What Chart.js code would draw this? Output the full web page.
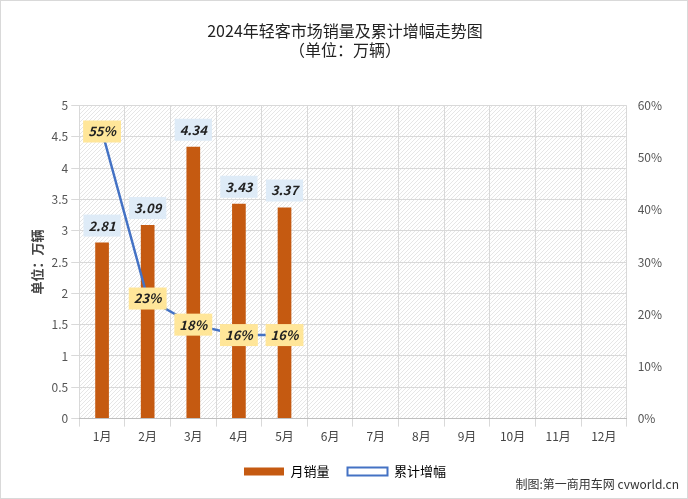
<!DOCTYPE html>
<html><head><meta charset="utf-8">
<script src="https://cdn.jsdelivr.net/npm/chart.js@4"></script>
<style>body{margin:0;background:#fff}#w{width:688px;height:499px;position:relative;box-sizing:border-box;border:1px solid #d9d9d9}</style>
</head><body><div id="w"><canvas id="c" width="686" height="497"></canvas>
<div style="position:absolute;right:8px;bottom:6px;font:12px 'Noto Sans CJK SC',sans-serif;color:#333">制图:第一商用车网 cvworld.cn</div></div>
<script>
const months = ['1月','2月','3月','4月','5月','6月','7月','8月','9月','10月','11月','12月'];
const sales = [2.81, 3.09, 4.34, 3.43, 3.37];
const growth = [55, 23, 18, 16, 16];

const font = '"Microsoft YaHei","Noto Sans CJK SC",sans-serif';

function hatch(ctx) {
  const p = document.createElement('canvas');
  p.width = 4; p.height = 4;
  const g = p.getContext('2d');
  g.fillStyle = '#fff'; g.fillRect(0, 0, 4, 4);
  g.strokeStyle = '#e6e6e6'; g.lineWidth = 1;
  g.beginPath(); g.moveTo(0, 4); g.lineTo(4, 0); g.stroke();
  return ctx.createPattern(p, 'repeat');
}

const bgPlugin = {
  id: 'bg',
  beforeDraw(chart) {
    const {ctx, chartArea: a} = chart;
    ctx.save();
    ctx.fillStyle = hatch(ctx);
    ctx.fillRect(a.left, a.top, a.width, a.height);
    ctx.restore();
  }
};

function box(ctx, x, y, text, fill) {
  ctx.font = 'italic bold 13px ' + font;
  const w = ctx.measureText(text).width + 10;
  ctx.fillStyle = fill;
  ctx.fillRect(x - w / 2, y - 11, w, 22);
  ctx.fillStyle = '#222';
  ctx.textAlign = 'center'; ctx.textBaseline = 'middle';
  ctx.fillText(text, x, y);
}

const labelPlugin = {
  id: 'labels',
  afterDatasetsDraw(chart) {
    const ctx = chart.ctx;
    ctx.save();
    chart.getDatasetMeta(0).data.forEach((b, i) => {
      box(ctx, b.x, b.y - 17, sales[i].toFixed(2), '#deebf7');
    });
    chart.getDatasetMeta(1).data.forEach((p, i) => {
      box(ctx, p.x, p.y, growth[i] + '%', '#ffe699');
    });
    ctx.restore();
  }
};

new Chart(document.getElementById('c'), {
  data: {
    labels: months,
    datasets: [
      {type: 'bar', label: '月销量', data: sales, backgroundColor: '#c55a11', yAxisID: 'y', barPercentage: 0.3, categoryPercentage: 1, order: 2},
      {type: 'line', label: '累计增幅', data: growth, borderColor: '#4472c4', borderWidth: 2.5, pointRadius: 4, pointBackgroundColor: '#fff', pointBorderColor: '#4472c4', pointBorderWidth: 2, yAxisID: 'y1', order: 1}
    ]
  },
  options: {
    responsive: false,
    animation: false,
    layout: {padding: {left: 24, right: 22, top: 0, bottom: 10}},
    plugins: {
      title: {display: true, text: ['2024年轻客市场销量及累计增幅走势图', '（单位：万辆）'], font: {family: font, size: 16, weight: 'normal'}, color: '#222', padding: {top: 20, bottom: 46}},
      legend: {
        position: 'bottom',
        labels: {
          font: {family: font, size: 13}, color: '#444', boxWidth: 40, boxHeight: 8, padding: 18,
          generateLabels: () => [
            {text: '月销量', fillStyle: '#c55a11', strokeStyle: '#c55a11', lineWidth: 0, datasetIndex: 0},
            {text: '累计增幅', fillStyle: '#fff', strokeStyle: '#4472c4', lineWidth: 2, datasetIndex: 1}
          ]
        }
      },
      tooltip: {enabled: false}
    },
    scales: {
      x: {
        offset: true,
        grid: {color: '#d9d9d9', offset: true},
        border: {color: '#bfbfbf'},
        ticks: {font: {family: font, size: 12}, color: '#444'}
      },
      y: {
        min: 0, max: 5,
        ticks: {stepSize: 0.5, callback: v => String(v), font: {family: font, size: 12}, color: '#555'},
        grid: {color: '#d9d9d9'},
        border: {display: false},
        title: {display: true, text: '单位：万辆', font: {family: font, size: 13, weight: 'bold'}, color: '#444'}
      },
      y1: {
        position: 'right', min: 0, max: 60,
        ticks: {stepSize: 10, callback: v => v + '%', font: {family: font, size: 12}, color: '#555'},
        grid: {display: false},
        border: {display: false}
      }
    }
  },
  plugins: [bgPlugin, labelPlugin]
});
</script>
</body></html>
